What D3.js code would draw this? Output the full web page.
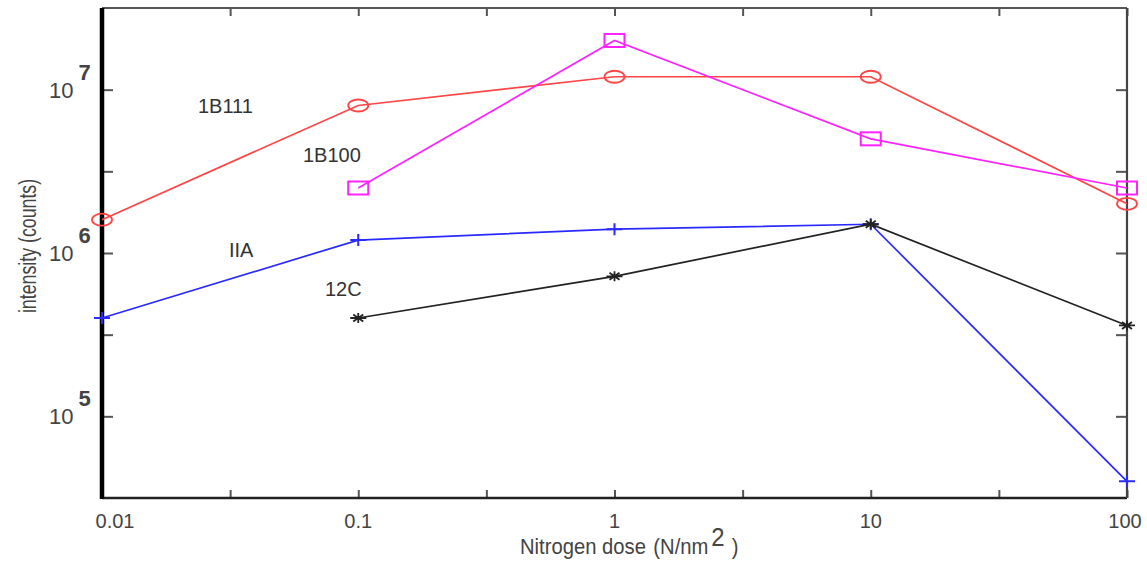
<!DOCTYPE html>
<html>
<head>
<meta charset="utf-8">
<script src="https://cdn.jsdelivr.net/npm/d3@7"></script>
<style>
  html, body { margin: 0; padding: 0; background: #fff; }
  svg { display: block; }
  text { font-family: "Liberation Sans", Arial, sans-serif; }
</style>
</head>
<body>
<svg id="chart" width="1147" height="561"></svg>
<script>
// Nitrogen dose (N/nm^2) and measured intensities per sample
const doses = [0.01, 0.1, 1, 10, 100];
const s1B111 = [1.6e6, 8.0e6, 1.2e7, 1.2e7, 2.0e6];
const s1B100 = [null, 2.5e6, 2.0e7, 5.0e6, 2.5e6];
const sIIA   = [4.0e5, 1.2e6, 1.4e6, 1.5e6, 4.0e4];
const s12C   = [null, 4.0e5, 7.2e5, 1.5e6, 3.6e5];

const xTickLabels = ["0.01", "0.1", "1", "10", "100"];
const yDecades = [5, 6, 7];

const series = [
  { name: "1B111", values: s1B111, color: "#ff4545", marker: "circle", label: [198, 113] },
  { name: "1B100", values: s1B100, color: "#ff22ff", marker: "square", label: [303, 162] },
  { name: "IIA",   values: sIIA,   color: "#2a2aff", marker: "plus",   label: [229, 257] },
  { name: "12C",   values: s12C,   color: "#222222", marker: "star",   label: [325, 296] }
];

const svg = d3.select("#chart");
const plotLeft = 102, plotRight = 1127, plotTop = 8, plotBottom = 498;

const x = d3.scaleLog().domain([0.01, 100]).range([plotLeft, plotRight]);
const y = d3.scaleLog().domain([Math.pow(10, 4.5), Math.pow(10, 7.5)]).range([plotBottom, plotTop]);

// half-decade tick positions
const xTicks = [];
for (let e = -2; e <= 2; e += 0.5) xTicks.push(Math.pow(10, e));
const yTicks = [];
for (let e = 5; e <= 7; e += 0.5) yTicks.push(Math.pow(10, e));

const frame = svg.append("g");

// ticks on all four sides, pointing inward
const tickColor = "#555";
function styleAxis(g) {
  g.select(".domain").remove();
  g.selectAll(".tick line").attr("stroke", tickColor).attr("stroke-width", 2);
  g.selectAll(".tick text").remove();
}
frame.append("g").attr("transform", `translate(0,${plotBottom})`)
  .call(d3.axisBottom(x).tickValues(xTicks).tickSizeInner(-8).tickSizeOuter(0)).call(styleAxis);
frame.append("g").attr("transform", `translate(0,${plotTop})`)
  .call(d3.axisTop(x).tickValues(xTicks).tickSizeInner(-8).tickSizeOuter(0)).call(styleAxis);
frame.append("g").attr("transform", `translate(${plotLeft},0)`)
  .call(d3.axisLeft(y).tickValues(yTicks).tickSizeInner(-11).tickSizeOuter(0)).call(styleAxis);
frame.append("g").attr("transform", `translate(${plotRight},0)`)
  .call(d3.axisRight(y).tickValues(yTicks).tickSizeInner(-11).tickSizeOuter(0)).call(styleAxis);

// box
frame.append("line").attr("x1", plotLeft).attr("x2", plotRight).attr("y1", plotTop).attr("y2", plotTop)
  .attr("stroke", "#555").attr("stroke-width", 2);
frame.append("line").attr("x1", plotLeft).attr("x2", plotRight).attr("y1", plotBottom).attr("y2", plotBottom)
  .attr("stroke", "#222").attr("stroke-width", 2.5);
frame.append("line").attr("x1", plotRight).attr("x2", plotRight).attr("y1", plotTop).attr("y2", plotBottom)
  .attr("stroke", "#444").attr("stroke-width", 2.2);
frame.append("line").attr("x1", plotLeft).attr("x2", plotLeft).attr("y1", plotTop).attr("y2", plotBottom + 1)
  .attr("stroke", "#000").attr("stroke-width", 4.5);

// x tick labels
svg.append("g").selectAll("text").data(doses).join("text")
  .attr("x", (d, i) => x(d) + (i === 0 ? 13 : 0) - (i === doses.length - 1 ? 2 : 0))
  .attr("y", 528)
  .attr("text-anchor", "middle")
  .attr("font-size", 20)
  .attr("fill", "#444")
  .text((d, i) => xTickLabels[i]);

// y tick labels: 10 with superscript exponent
const yl = svg.append("g").selectAll("text").data(yDecades).join("text")
  .attr("x", 49)
  .attr("y", d => y(Math.pow(10, d)) + 8)
  .attr("font-size", 22)
  .attr("fill", "#444");
yl.append("tspan").text("10");
yl.append("tspan").attr("dx", 5).attr("dy", -18).attr("font-size", 22).attr("font-weight", "bold").text(d => d);

// axis titles (condensed lettering)
svg.append("text")
  .attr("transform", `translate(36,246) rotate(-90) scale(0.74,1)`)
  .attr("text-anchor", "middle")
  .attr("font-size", 24)
  .attr("fill", "#444")
  .text("intensity (counts)");

const xt = svg.append("text")
  .attr("transform", "translate(520,554) scale(0.92,1)")
  .attr("font-size", 22)
  .attr("fill", "#444");
xt.append("tspan").text("Nitrogen dose");
xt.append("tspan").attr("dx", 8).text("(N/nm");
xt.append("tspan").attr("dx", 3).attr("dy", -8).attr("font-size", 26).text("2");
xt.append("tspan").attr("dy", 8).attr("dx", 8).text(")");

// lines and markers
const line = d3.line()
  .defined(d => d.v != null)
  .x(d => x(d.x))
  .y(d => y(d.v));

const plot = svg.append("g");
series.forEach(s => {
  const pts = doses.map((d, i) => ({ x: d, v: s.values[i] }));
  plot.append("path")
    .datum(pts)
    .attr("fill", "none")
    .attr("stroke", s.color)
    .attr("stroke-width", 1.7)
    .attr("d", line);

  const g = plot.append("g").selectAll("g").data(pts.filter(p => p.v != null)).join("g")
    .attr("transform", p => `translate(${x(p.x)},${y(p.v)})`);
  if (s.marker === "circle") {
    g.append("ellipse").attr("rx", 10).attr("ry", 6)
      .attr("fill", "none").attr("stroke", s.color).attr("stroke-width", 1.8);
  } else if (s.marker === "square") {
    g.append("rect").attr("x", -10).attr("y", -6.5).attr("width", 20).attr("height", 13)
      .attr("fill", "none").attr("stroke", s.color).attr("stroke-width", 2);
  } else if (s.marker === "plus") {
    g.append("path").attr("d", "M-8,0H8M0,-6V6")
      .attr("stroke", s.color).attr("stroke-width", 2);
  } else {
    g.append("path").attr("d", "M-8,0H8M0,-5V5M-5,-3.5L5,3.5M-5,3.5L5,-3.5")
      .attr("stroke", s.color).attr("stroke-width", 1.8);
  }
});

// series labels
svg.append("g").selectAll("text").data(series).join("text")
  .attr("x", s => s.label[0])
  .attr("y", s => s.label[1])
  .attr("font-size", 20)
  .attr("fill", "#333")
  .text(s => s.name);
</script>
</body>
</html>
